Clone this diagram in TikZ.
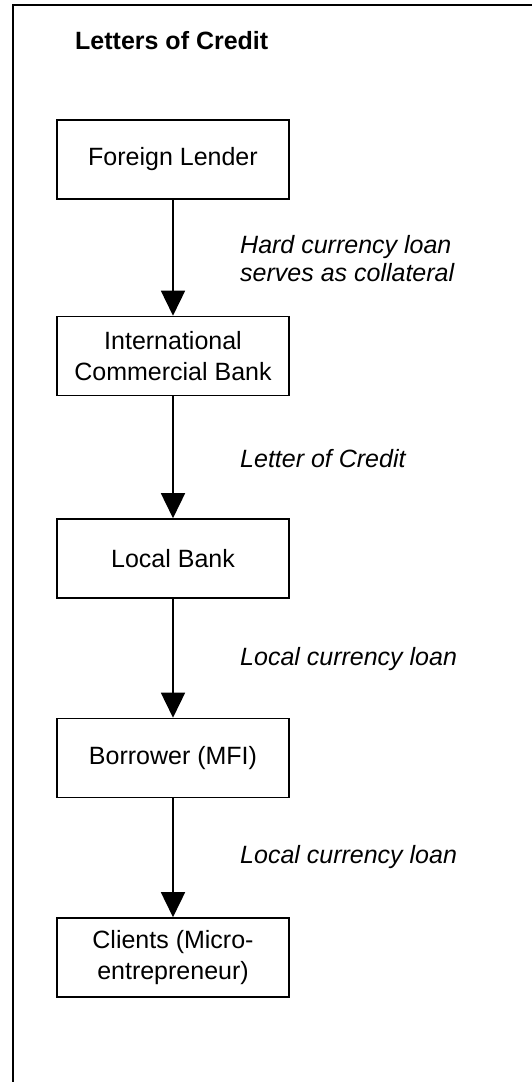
\documentclass[tikz,border=0pt]{standalone}
\usepackage{fontspec}
\setmainfont{Liberation Sans}
\usetikzlibrary{arrows.meta}

\begin{document}
\begin{tikzpicture}[x=1pt,y=-1pt,
    box/.style={draw,line width=1.6pt,minimum width=232pt,minimum height=79pt,
      inner sep=0pt,align=center,font=\fontsize{25}{31}\selectfont},
    flow/.style={line width=1.6pt,-{Triangle[width=24pt,length=25pt]}},
    note/.style={anchor=west,align=left,inner sep=0pt,
      font=\fontsize{25}{28}\selectfont\itshape}]
  \useasboundingbox (0,0) rectangle (532,1082);
  \draw[line width=1.6pt] (13,1082) -- (13,5) -- (532,5);
  \node[anchor=west,inner sep=0pt,font=\fontsize{25}{30}\selectfont\bfseries]
    (title) at (75,41) {Letters of Credit};

  \node[box] (lender) at (173,159.5) {Foreign Lender};
  \node[box] (intlbank) at (173,356) {International\\Commercial Bank};
  \node[box] (localbank) at (173,558.5) {Local Bank};
  \node[box] (borrower) at (173,758) {Borrower (MFI)};
  \node[box] (clients) at (173,957.5) {Clients (Micro-\\entrepreneur)};

  \draw[flow] (lender) -- (intlbank);
  \draw[flow] (intlbank) -- (localbank);
  \draw[flow] (localbank) -- (borrower);
  \draw[flow] (borrower) -- (clients);

  \node[note] (collateral) at (240,259) {Hard currency loan\\serves as collateral};
  \node[note] (credit) at (240,459) {Letter of Credit};
  \node[note] (localloan) at (240,659) {Local currency loan};
  \node[note] (clientloan) at (240,857) {Local currency loan};
\end{tikzpicture}
\end{document}
